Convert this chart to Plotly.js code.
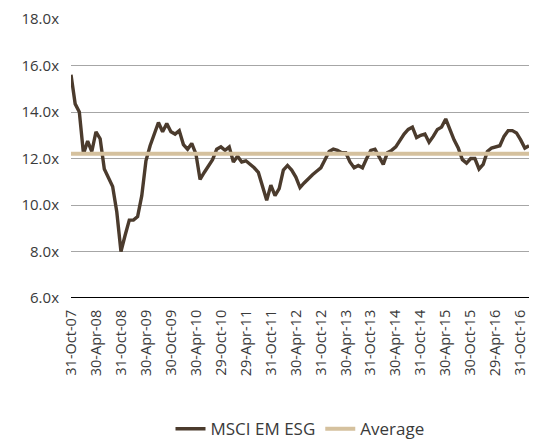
<!DOCTYPE html>
<html>
<head>
<meta charset="utf-8">
<script src="https://cdn.plot.ly/plotly-3.0.1.min.js"></script>
<style>html,body{margin:0;padding:0;background:#fff;}#chart{width:536px;height:441px;}</style>
</head>
<body>
<div id="chart"></div>
<script>
const months = [
 "Oct-07","Nov-07","Dec-07","Jan-08","Feb-08","Mar-08","Apr-08","May-08","Jun-08","Jul-08","Aug-08","Sep-08",
 "Oct-08","Nov-08","Dec-08","Jan-09","Feb-09","Mar-09","Apr-09","May-09","Jun-09","Jul-09","Aug-09","Sep-09",
 "Oct-09","Nov-09","Dec-09","Jan-10","Feb-10","Mar-10","Apr-10","May-10","Jun-10","Jul-10","Aug-10","Sep-10",
 "Oct-10","Nov-10","Dec-10","Jan-11","Feb-11","Mar-11","Apr-11","May-11","Jun-11","Jul-11","Aug-11","Sep-11",
 "Oct-11","Nov-11","Dec-11","Jan-12","Feb-12","Mar-12","Apr-12","May-12","Jun-12","Jul-12","Aug-12","Sep-12",
 "Oct-12","Nov-12","Dec-12","Jan-13","Feb-13","Mar-13","Apr-13","May-13","Jun-13","Jul-13","Aug-13","Sep-13",
 "Oct-13","Nov-13","Dec-13","Jan-14","Feb-14","Mar-14","Apr-14","May-14","Jun-14","Jul-14","Aug-14","Sep-14",
 "Oct-14","Nov-14","Dec-14","Jan-15","Feb-15","Mar-15","Apr-15","May-15","Jun-15","Jul-15","Aug-15","Sep-15",
 "Oct-15","Nov-15","Dec-15","Jan-16","Feb-16","Mar-16","Apr-16","May-16","Jun-16","Jul-16","Aug-16","Sep-16",
 "Oct-16","Nov-16","Dec-16"
];

const msciEmEsg = [
 15.6, 14.35, 14.0, 12.2, 12.75, 12.3, 13.15, 12.85, 11.55, 11.2, 10.8, 9.7,
 8.0, 8.7, 9.35, 9.35, 9.5, 10.4, 11.9, 12.55, 13.05, 13.55, 13.15, 13.5,
 13.15, 13.05, 13.2, 12.6, 12.4, 12.65, 12.2, 11.1, 11.4, 11.7, 11.95, 12.4,
 12.5, 12.35, 12.5, 11.85, 12.1, 11.85, 11.9, 11.75, 11.6, 11.4, 10.75, 10.2,
 10.85, 10.4, 10.7, 11.5, 11.7, 11.5, 11.2, 10.75, 10.95, 11.15, 11.3, 11.45,
 11.6, 11.95, 12.3, 12.4, 12.35, 12.25, 12.25, 11.85, 11.6, 11.7, 11.6, 12.0,
 12.35, 12.4, 12.05, 11.75, 12.25, 12.35, 12.5, 12.8, 13.05, 13.25, 13.35, 12.9,
 13.0, 13.05, 12.7, 12.95, 13.25, 13.35, 13.7, 13.25, 12.8, 12.45, 11.95, 11.8,
 12.0, 12.0, 11.55, 11.75, 12.3, 12.45, 12.5, 12.55, 12.95, 13.2, 13.2, 13.1,
 12.8, 12.45, 12.55
];

const averageLevel = 12.2;
const averageValues = months.map(() => averageLevel);

const tickLabels = ["31-Oct-07","30-Apr-08","31-Oct-08","30-Apr-09","30-Oct-09","30-Apr-10","29-Oct-10","29-Apr-11","31-Oct-11","30-Apr-12","31-Oct-12","30-Apr-13","31-Oct-13","30-Apr-14","31-Oct-14","30-Apr-15","30-Oct-15","29-Apr-16","31-Oct-16"];
const tickPositions = tickLabels.map((_, k) => months[k * 6]);

const yTickVals = [6, 8, 10, 12, 14, 16, 18];
const yTickText = ["6.0x", "8.0x", "10.0x", "12.0x", "14.0x", "16.0x", "18.0x"];

const family = "Open Sans, DejaVu Sans, sans-serif";
const xFont = {family: family, size: 14.5, color: "#3a3a3a"};
const yFont = {family: family, size: 15, color: "#3a3a3a"};
const legendFont = {family: family, size: 17, color: "#3a3a3a"};

const traces = [
  {x: months, y: msciEmEsg, type: "scatter", mode: "lines", name: "MSCI EM ESG",
   line: {color: "#4b3b2d", width: 3.4}},
  {x: months, y: averageValues, type: "scatter", mode: "lines", name: "Average",
   line: {color: "#d5c19e", width: 4}}
];

const layout = {
  width: 536, height: 441,
  margin: {l: 71, r: 7, t: 19, b: 143, autoexpand: false},
  paper_bgcolor: "#fff", plot_bgcolor: "#fff",
  font: xFont,
  showlegend: true,
  legend: {orientation: "h", x: 0.5, xanchor: "center", y: -0.47, yanchor: "middle",
           font: legendFont, itemwidth: 30, tracegroupgap: 0},
  xaxis: {type: "category", range: [0, months.length - 1], tickmode: "array",
          tickvals: tickPositions, ticktext: tickLabels, tickangle: -90,
          showgrid: false, showline: false, zeroline: false, ticks: "outside",
          ticklen: 5, tickcolor: "rgba(0,0,0,0)",
          tickfont: xFont, automargin: false},
  yaxis: {range: [6, 18], tickmode: "array", tickvals: yTickVals, ticktext: yTickText,
          showgrid: true, gridcolor: "#a6a6a6", gridwidth: 1, zeroline: false,
          showline: false, ticks: "outside", ticklen: 8, tickcolor: "rgba(0,0,0,0)",
          tickfont: yFont, automargin: false},
  shapes: [{type: "line", xref: "paper", yref: "y", x0: 0, x1: 1, y0: 6, y1: 6,
            line: {color: "#000", width: 2}}]
};

Plotly.newPlot("chart", traces, layout, {displayModeBar: false, staticPlot: true});
</script>
</body>
</html>
